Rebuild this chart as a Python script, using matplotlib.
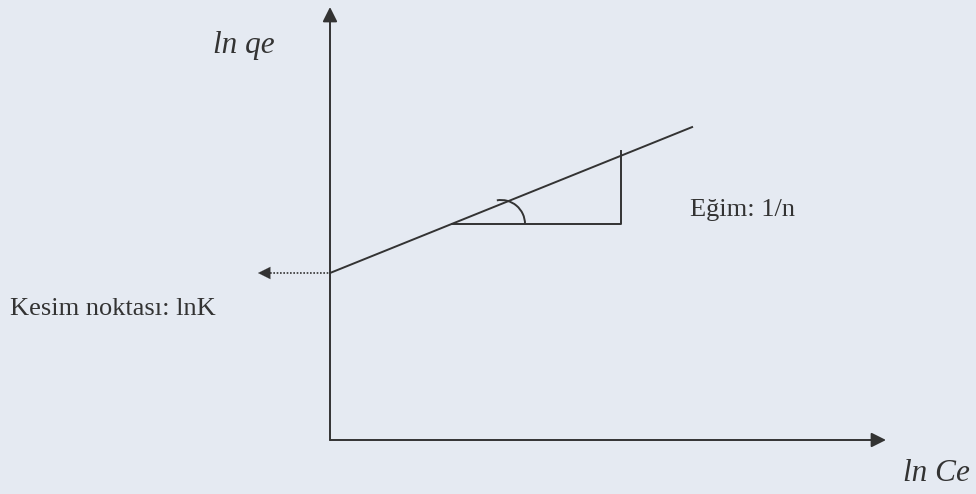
import numpy as np
import matplotlib
matplotlib.use("Agg")
import matplotlib.pyplot as plt
from matplotlib.patches import Arc

# Freundlich linear form: ln qe = ln K + (1/n) ln Ce  (schematic units)
intercept_lnK = 1.67
slope_1n = 0.403
line_x = [0.0, 3.63]
tri_x = [1.22, 2.91]          # slope triangle, horizontal leg
tri_top = 2.89                # vertical leg upper end
arc_center = (1.71, 2.16)
arc_radius = 0.24
x_axis_end = 5.56
y_axis_end = 4.33
lnk_arrow_end = -0.72

labels = {
    "y": "ln qe",
    "x": "ln Ce",
    "slope": "Eğim: 1/n",
    "intercept": "Kesim noktası: lnK",
}

ink = "#333333"
bg = "#e5eaf2"

fig = plt.figure(figsize=(9.76, 4.94), dpi=100)
fig.patch.set_facecolor(bg)
ax = fig.add_axes([0, 0, 1, 1])
ax.set_facecolor(bg)
ax.set_xlim(-3.30, 6.46)
ax.set_ylim(-0.54, 4.40)
ax.axis("off")

arrow = dict(arrowstyle="-|>", color=ink, lw=1.4, mutation_scale=22,
             shrinkA=0, shrinkB=0)

# axes with arrow heads
ax.annotate("", xy=(0, y_axis_end), xytext=(0, 0), arrowprops=arrow)
ax.annotate("", xy=(x_axis_end, 0), xytext=(0, 0), arrowprops=arrow)

# straight line
lx = np.array(line_x)
ly = intercept_lnK + slope_1n * lx
ax.plot(lx, ly, color=ink, lw=1.4, solid_capstyle="butt")

# slope triangle
y_base = intercept_lnK + slope_1n * tri_x[0]
ax.plot([tri_x[0], tri_x[1], tri_x[1]], [y_base, y_base, tri_top],
        color=ink, lw=1.4)
ax.add_patch(Arc(arc_center, 2 * arc_radius, 2 * arc_radius, theta1=0, theta2=100,
                 color=ink, lw=1.4))

# dotted arrow to the intercept
ax.plot([lnk_arrow_end + 0.12, 0], [intercept_lnK, intercept_lnK],
        color=ink, lw=1.2, linestyle=(0, (1, 1)))
ax.annotate("", xy=(lnk_arrow_end, intercept_lnK),
            xytext=(lnk_arrow_end + 0.14, intercept_lnK),
            arrowprops=dict(arrowstyle="-|>", color=ink, lw=0.1,
                            mutation_scale=22, shrinkA=0, shrinkB=0))

serif = "Liberation Serif"
ax.text(-1.17, 3.95, labels["y"], family=serif, style="italic", fontsize=22.5,
        color=ink, ha="left", va="center")
ax.text(5.73, -0.33, labels["x"], family=serif, style="italic", fontsize=22.5,
        color=ink, ha="left", va="center")
ax.text(3.60, 2.30, labels["slope"], family=serif, fontsize=19,
        color=ink, ha="left", va="center")
ax.text(-3.20, 1.31, labels["intercept"], family=serif, fontsize=19,
        color=ink, ha="left", va="center")

fig.savefig("out.png", dpi=100, facecolor=bg)
